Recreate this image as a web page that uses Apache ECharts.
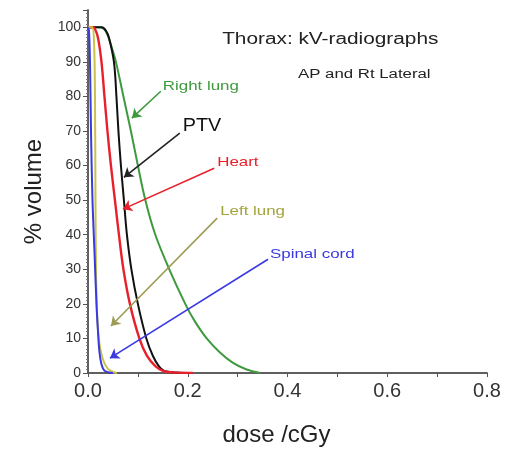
<!DOCTYPE html>
<html>
<head>
<meta charset="utf-8">
<script src="https://cdn.jsdelivr.net/npm/echarts@6/dist/echarts.min.js"></script>
<style>
  html, body { margin: 0; padding: 0; background: #fff; }
  #chart { width: 519px; height: 453px; }
</style>
</head>
<body>
<div id="chart"></div>
<script>
// Cumulative dose-volume histograms, thorax kV radiographs (AP + Rt lateral)
const rightLungDose = [0, 0.02, 0.032, 0.04, 0.048, 0.056, 0.071, 0.086, 0.1, 0.115, 0.135, 0.163, 0.195, 0.214, 0.238, 0.264, 0.29, 0.318, 0.345];
const rightLungVol  = [100, 100, 99.5, 97.5, 94, 90, 80, 70, 60, 50, 40, 30, 20, 15, 10, 6, 3, 1, 0];

const ptvDose = [0, 0.028, 0.036, 0.042, 0.052, 0.057, 0.061, 0.066, 0.072, 0.078, 0.087, 0.1, 0.117, 0.13, 0.142, 0.155, 0.2];
const ptvVol  = [100, 100, 99, 97, 90, 80, 70, 60, 50, 40, 30, 20, 10, 5, 2, 0.5, 0];

const heartDose = [0, 0.01, 0.014, 0.02, 0.027, 0.033, 0.039, 0.046, 0.054, 0.062, 0.071, 0.084, 0.103, 0.118, 0.135, 0.152, 0.18, 0.21];
const heartVol  = [100, 100, 99.5, 97, 90, 80, 70, 60, 50, 40, 30, 20, 10, 5, 2, 0.5, 0.1, 0];

const leftLungDose = [0, 0.008, 0.012, 0.014, 0.015, 0.016, 0.018, 0.021, 0.026, 0.034, 0.045, 0.058];
const leftLungVol  = [100, 100, 96, 80, 50, 30, 18, 11, 6, 2.5, 0.6, 0];

const cordDose = [0, 0.002, 0.004, 0.006, 0.009, 0.013, 0.017, 0.02, 0.023, 0.027, 0.032, 0.04, 0.05];
const cordVol  = [100, 99, 90, 70, 50, 35, 20, 12, 6, 2.5, 0.8, 0.2, 0];

const xTicks = [0, 0.2, 0.4, 0.6, 0.8];
const yTicks = [0, 10, 20, 30, 40, 50, 60, 70, 80, 90, 100];

const pairs = (xs, ys) => xs.map((x, i) => [x, ys[i]]);

// annotation: label anchor, arrow tail, arrow tip (data coordinates)
const notes = [
  { text: 'Right lung', color: '#3f9a3f', line: '#3f9a3f', at: [0.150, 83.0], from: [0.146, 81.5], to: [0.088, 73.7], size: 13, sx: 1.3 },
  { text: 'PTV',        color: '#111111', line: '#222222', at: [0.190, 71.3], from: [0.184, 69.4], to: [0.072, 56.6], size: 18, sx: 1.1 },
  { text: 'Heart',      color: '#e8202c', line: '#e8202c', at: [0.259, 60.9], from: [0.253, 59.2], to: [0.070, 47.4], size: 13, sx: 1.3 },
  { text: 'Left lung',  color: '#a4a43c', line: '#9c9c54', at: [0.265, 46.7], from: [0.259, 44.8], to: [0.046, 13.6], size: 13, sx: 1.3 },
  { text: 'Spinal cord',color: '#3a3ae0', line: '#3a3ae0', at: [0.365, 34.4], from: [0.361, 32.9], to: [0.044, 4.3],  size: 13, sx: 1.3 }
];

const headings = [
  { text: 'Thorax: kV-radiographs', at: [0.269, 96.3], size: 16, sx: 1.3 },
  { text: 'AP and Rt Lateral',      at: [0.421, 86.2], size: 12, sx: 1.4 }
];

const axisColor = '#555';
const font = '"Liberation Sans", Arial, sans-serif';

function curve(name, xs, ys, color, width) {
  return {
    name, type: 'line', data: pairs(xs, ys),
    showSymbol: false, smooth: 0.35,
    lineStyle: { color, width }, itemStyle: { color },
    animation: false, z: 3
  };
}

// one line series per arrow so the arrowhead is drawn at the tip
function arrowSeries(n) {
  return {
    type: 'lines', coordinateSystem: 'cartesian2d', silent: true, animation: false, z: 4,
    symbol: ['none', 'arrow'], symbolSize: 9,
    lineStyle: { color: n.line, width: 1.6, opacity: 1 },
    data: [{ coords: [n.from, n.to] }]
  };
}

const chart = echarts.init(document.getElementById('chart'), null, { renderer: 'canvas' });

const option = {
  animation: false,
  backgroundColor: '#fff',
  grid: { left: 88, right: 32, top: 10, bottom: 80 },
  xAxis: [{
    type: 'value', min: xTicks[0], max: xTicks[xTicks.length - 1], interval: 0.2,
    name: 'dose /cGy', nameLocation: 'middle', nameGap: 50,
    nameTextStyle: { fontFamily: font, fontSize: 24, color: '#222', padding: [0, 22, 0, 0] },
    axisLine: { show: true, lineStyle: { color: axisColor, width: 1.5 } },
    axisTick: { show: true, inside: false, length: 4, lineStyle: { color: axisColor } },
    minorTick: { show: true, splitNumber: 2, length: 4, lineStyle: { color: axisColor } },
    axisLabel: { fontFamily: font, fontSize: 20, color: '#333', margin: 8, formatter: v => v.toFixed(1) },
    splitLine: { show: false }
  }, {
    type: 'value', position: 'top', min: 0, max: 0.8, interval: 0.2,
    axisLine: { show: true, lineStyle: { color: axisColor, width: 1.5 } },
    axisTick: { show: true, inside: true, length: 4, lineStyle: { color: axisColor } },
    minorTick: { show: true, splitNumber: 2, length: 4, lineStyle: { color: axisColor } },
    axisLabel: { show: false }, splitLine: { show: false }
  }],
  yAxis: [{
    type: 'value', min: 0, max: 105, interval: 10,
    name: '% volume', nameLocation: 'middle', nameGap: 38,
    nameTextStyle: { fontFamily: font, fontSize: 24, color: '#222' },
    axisLine: { show: true, lineStyle: { color: axisColor, width: 1.5 } },
    axisTick: { show: true, inside: false, length: 5, lineStyle: { color: axisColor } },
    minorTick: { show: true, splitNumber: 10, length: 2, lineStyle: { color: '#777' } },
    axisLabel: { fontFamily: font, fontSize: 14, color: '#333', margin: 7, showMaxLabel: false,
      formatter: v => (yTicks.indexOf(v) >= 0 ? String(v) : '') },
    splitLine: { show: false }
  }, {
    type: 'value', position: 'right', min: 0, max: 105, interval: 10,
    axisLine: { show: true, lineStyle: { color: axisColor, width: 1.5 } },
    axisTick: { show: true, inside: true, length: 5, lineStyle: { color: axisColor } },
    minorTick: { show: true, splitNumber: 10, length: 2, lineStyle: { color: '#777' } },
    axisLabel: { show: false }, splitLine: { show: false }
  }],
  series: [
    curve('Right lung', rightLungDose, rightLungVol, '#3f9a3f', 2),
    curve('PTV', ptvDose, ptvVol, '#111111', 2),
    curve('Heart', heartDose, heartVol, '#e8202c', 2.4),
    curve('Left lung', leftLungDose, leftLungVol, '#c8c24a', 2),
    curve('Spinal cord', cordDose, cordVol, '#3a3ae0', 2)
  ].concat(notes.map(arrowSeries))
};

chart.setOption(option);

// place the text annotations at their data coordinates
function textAt(t, color) {
  const p = chart.convertToPixel({ gridIndex: 0 }, t.at);
  return {
    type: 'text', x: p[0], y: p[1], scaleX: t.sx, scaleY: 1, z: 10, silent: true,
    style: {
      text: t.text, fill: color, font: t.size + 'px ' + font,
      textAlign: 'left', textVerticalAlign: 'middle'
    }
  };
}

chart.setOption({
  graphic: notes.map(n => textAt(n, n.color)).concat(headings.map(h => textAt(h, '#222')))
});
</script>
</body>
</html>
